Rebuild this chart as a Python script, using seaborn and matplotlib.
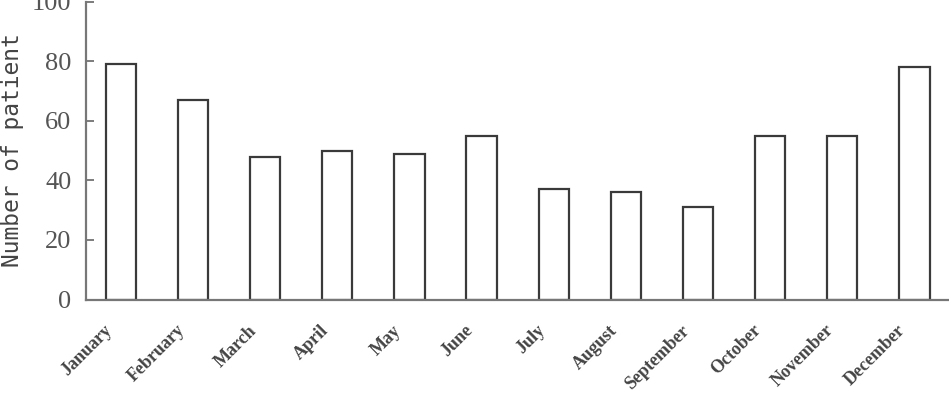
import matplotlib
matplotlib.use("Agg")
import matplotlib.pyplot as plt
import seaborn as sns
import pandas as pd

months = ["January", "February", "March", "April", "May", "June",
          "July", "August", "September", "October", "November", "December"]
patients = [79, 67, 48, 50, 49, 55, 37, 36, 31, 55, 55, 78]
yticks = [0, 20, 40, 60, 80, 100]

sns.set_style("white")
df = pd.DataFrame({"month": months, "patients": patients})

fig = plt.figure(figsize=(9.49, 3.94), dpi=100)
ax = fig.add_axes([0.0906, 0.2396, 0.9094, 0.7564])
sns.barplot(data=df, x="month", y="patients", ax=ax, color="white",
            edgecolor="#3a3a3a", linewidth=1.6, width=0.42)

ax.set_ylim(0, 100)
ax.set_xlim(-0.485, 11.48)
ax.set_yticks(yticks)
ax.set_yticklabels([str(v) for v in yticks], family="Liberation Serif",
                   fontsize=19, color="#555555")
ax.tick_params(axis="y", direction="in", length=6, width=1.2,
               color="#666666", pad=10.5, left=True)
ax.tick_params(axis="x", length=0, pad=16)
# label anchors sit slightly left of the bar centres (ticks have zero length)
ax.set_xticks([i - 0.24 for i in range(len(months))])
ax.set_xticklabels(months, rotation=45, ha="right", rotation_mode="anchor",
                   family="Liberation Serif", fontweight="bold", fontsize=13,
                   color="#444444")
ax.set_xlabel("")
ax.set_ylabel("Number of patient", family="DejaVu Sans Mono", fontsize=16.5,
              color="#444444", labelpad=6)
for side in ["top", "right"]:
    ax.spines[side].set_visible(False)
for side in ["left", "bottom"]:
    ax.spines[side].set_color("#777777")
    ax.spines[side].set_linewidth(1.6)

fig.savefig("out.png", dpi=100)
